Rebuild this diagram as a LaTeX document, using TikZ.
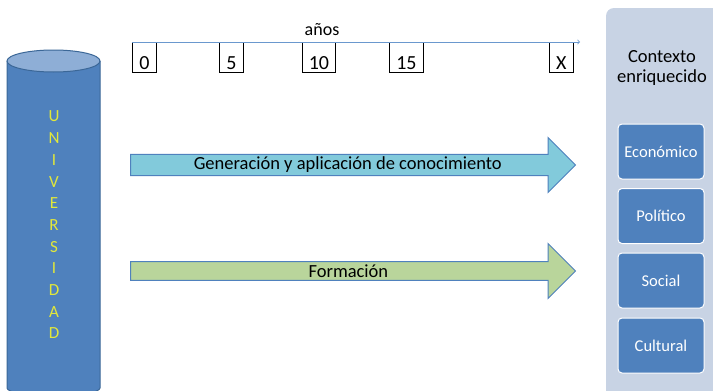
\documentclass[tikz,border=0pt]{standalone}
\usepackage{fontspec}
\setmainfont{Carlito}
\usepackage{tikz}
\usetikzlibrary{shapes.arrows}

\definecolor{uniblue}{HTML}{4F81BD}
\definecolor{unitop}{HTML}{8EAED6}
\definecolor{uniedge}{HTML}{3B6797}
\definecolor{uniletter}{HTML}{E2E83A}
\definecolor{aquafill}{HTML}{82CADB}
\definecolor{olivefill}{HTML}{B9D59B}
\definecolor{panelfill}{HTML}{C8D3E4}
\definecolor{timeline}{HTML}{6A98CE}

\begin{document}
\begin{tikzpicture}[x=1pt,y=-1pt,
    yearbox/.style={draw=black,fill=white,line width=0.8pt,minimum width=24pt,text height=26.5pt,text depth=1pt,inner ysep=1pt,inner xsep=2pt,anchor=north west,font=\fontsize{20}{22}\selectfont},
    bigarrow/.style={single arrow,draw=uniblue,line width=1pt,minimum width=55pt,minimum height=445pt,single arrow head extend=13.5pt,single arrow head indent=0pt,anchor=west,inner sep=0pt,font=\fontsize{18.5}{21}\selectfont},
    ctxbox/.style={draw=white,line width=1pt,fill=uniblue,rounded corners=4pt,minimum width=86pt,minimum height=55pt,text=white,font=\fontsize{16.5}{19}\selectfont}]

    \useasboundingbox[fill=white] (0,0) rectangle (713,391);

    % Draw the cylinder
    \filldraw[fill=uniblue,draw=uniedge,line width=1pt] (7,61) -- (7,388) arc[start angle=180,end angle=360,x radius=46.5pt,y radius=8pt] -- (100,61);
    \filldraw[fill=unitop,draw=uniedge,line width=1pt] (53.5,61) ellipse[x radius=46.5pt,y radius=11pt];
    \node[text=uniletter,align=center,font=\fontsize{17}{21.7}\selectfont] (univ) at (54,225) {U\\N\\I\\V\\E\\R\\S\\I\\D\\A\\D};

    % Place the year boxes
    \node[yearbox] (t0) at (132,42) {0};
    \node[yearbox] (t5) at (219,42) {5};
    \node[yearbox,minimum width=33pt] (t10) at (302,42) {10};
    \node[yearbox,minimum width=34pt] (t15) at (389,42) {15};
    \node[yearbox] (tx) at (549,42) {X};
    \coordinate (tend) at (580,42);
    \node[font=\fontsize{18}{20}\selectfont] (anos) at (322,30) {años};

    % Draw the time line
    \draw[timeline,line width=0.8pt,->] (t0.north west) -- (tend);

    % Place the arrows
    \node[bigarrow,fill=aquafill] (gen) at (130,165) {Generación y aplicación de conocimiento};
    \node[bigarrow,fill=olivefill] (form) at (130,271) {Formación};

    % Place the context panel
    \fill[panelfill,rounded corners=8pt] (606,8) rectangle (725,400);
    \node[align=center,font=\fontsize{18.5}{20}\selectfont] (ctx) at (662,68) {Contexto\\enriquecido};
    \node[ctxbox] (eco) at (661,151.5) {Económico};
    \node[ctxbox] (pol) at (661,216) {Político};
    \node[ctxbox] (soc) at (661,280.5) {Social};
    \node[ctxbox] (cul) at (661,345.5) {Cultural};

\end{tikzpicture}
\end{document}
